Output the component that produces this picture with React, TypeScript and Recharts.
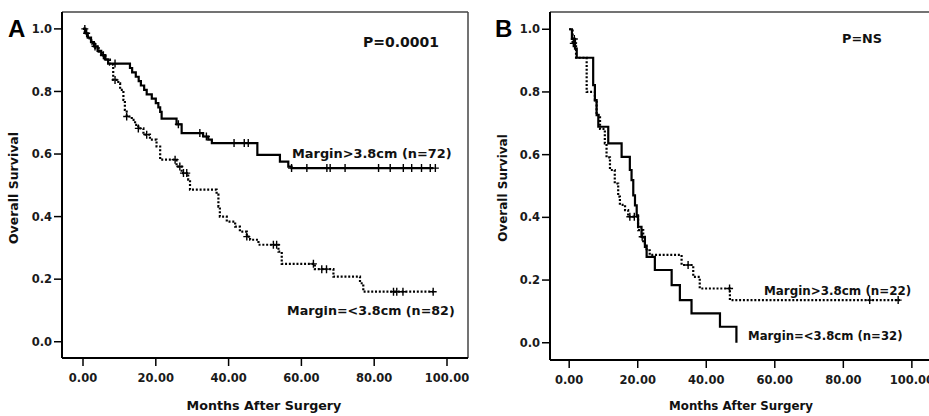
import React from 'react';
import { ComposedChart, Line, Scatter, XAxis, YAxis, ReferenceLine } from 'recharts';

// Panel A: margin > 3.8cm (solid) vs margin =< 3.8cm (dotted)
const aWideTimes = [0, 0.7, 1.3, 2.2, 3.0, 4.0, 5.0, 6.0, 6.9, 12.9, 13.5, 14.5, 15.3, 15.9, 16.8, 17.5, 18.9, 20.0, 20.7, 21.2, 21.6, 25.7, 27.1, 33.0, 34.4, 35.4, 47.9, 54.1, 56.4, 57.3, 96.2];
const aWideSurv = [1.0, 0.986, 0.972, 0.958, 0.944, 0.93, 0.916, 0.903, 0.889, 0.875, 0.861, 0.847, 0.833, 0.819, 0.805, 0.791, 0.777, 0.763, 0.749, 0.735, 0.713, 0.695, 0.667, 0.656, 0.646, 0.635, 0.597, 0.576, 0.56, 0.555, 0.555];
const aWideCensored = [0.5, 1.0, 3.3, 5.6, 8.8, 26.2, 32.1, 33.9, 41.5, 44.3, 45.4, 57.3, 61.5, 67.0, 67.9, 72.0, 81.2, 84.4, 88.0, 90.3, 93.0, 95.4, 96.8];

const aNarrowTimes = [0, 0.5, 1.0, 1.8, 2.6, 3.4, 4.3, 5.2, 6.2, 7.4, 8.3, 9.7, 10.2, 11.1, 11.5, 12.0, 13.4, 14.3, 15.2, 16.6, 18.4, 20.2, 21.2, 25.7, 27.1, 28.9, 29.4, 36.7, 37.2, 37.6, 39.5, 41.8, 43.1, 45.0, 45.9, 48.2, 53.7, 54.6, 63.7, 68.8, 76.1, 77.0, 96.2];
const aNarrowSurv = [1.0, 0.988, 0.976, 0.963, 0.951, 0.939, 0.927, 0.915, 0.902, 0.886, 0.837, 0.826, 0.805, 0.773, 0.741, 0.72, 0.709, 0.693, 0.682, 0.662, 0.646, 0.624, 0.582, 0.56, 0.539, 0.518, 0.486, 0.47, 0.432, 0.4, 0.384, 0.368, 0.352, 0.336, 0.326, 0.31, 0.288, 0.249, 0.232, 0.208, 0.187, 0.16, 0.16];
const aNarrowCensored = [8.8, 12.0, 15.2, 17.5, 25.3, 26.6, 27.6, 28.5, 45.0, 52.3, 53.2, 63.3, 65.6, 66.9, 85.3, 86.2, 87.9, 96.2];

// Panel B: margin > 3.8cm (dotted) vs margin =< 3.8cm (solid)
const bWideTimes = [0, 1.0, 2.0, 5.1, 7.5, 8.0, 9.0, 10.4, 10.9, 11.9, 13.3, 14.3, 14.8, 16.3, 17.2, 20.1, 21.6, 22.6, 23.5, 32.8, 36.2, 38.1, 46.9, 96.5];
const bWideSurv = [1.0, 0.955, 0.909, 0.8, 0.773, 0.727, 0.682, 0.636, 0.591, 0.551, 0.508, 0.466, 0.44, 0.423, 0.402, 0.359, 0.317, 0.295, 0.28, 0.248, 0.21, 0.173, 0.136, 0.136];
const bWideCensored = [1.2, 17.7, 19.0, 34.7, 46.8, 87.7, 96.0];

const bNarrowTimes = [0, 0.8, 1.7, 2.2, 7.0, 7.5, 8.0, 8.5, 11.4, 15.3, 17.7, 18.2, 18.7, 19.2, 19.7, 20.1, 21.1, 22.1, 22.6, 25.0, 29.9, 32.3, 35.7, 44.0, 48.8];
const bNarrowSurv = [1.0, 0.969, 0.938, 0.909, 0.822, 0.774, 0.726, 0.689, 0.636, 0.593, 0.551, 0.519, 0.47, 0.438, 0.406, 0.37, 0.338, 0.306, 0.274, 0.232, 0.184, 0.136, 0.094, 0.051, 0.0];
const bNarrowCensored = [1.5, 21.3];

const xTicks = [0, 20, 40, 60, 80, 100];
const yTicks = [0, 0.2, 0.4, 0.6, 0.8, 1.0];

const toSteps = (times: number[], surv: number[]) => times.map((t, i) => ({ t, s: surv[i] }));

// survival value at time t on a step curve
const stepAt = (times: number[], surv: number[], t: number) => {
  let v = surv[0];
  for (let i = 0; i < times.length; i++) {
    if (times[i] <= t) v = surv[i];
  }
  return v;
};

const toMarks = (censored: number[], times: number[], surv: number[]) =>
  censored.map((t) => ({ t, s: stepAt(times, surv, t) }));

const PlusMark = (props: any) => {
  const { cx, cy } = props;
  if (cx == null || cy == null) return null;
  return <path d={`M${cx - 3.5},${cy}h7M${cx},${cy - 4}v8`} stroke="#000" strokeWidth={1.4} fill="none" />;
};

const tickStyle = { fill: '#1a1a1a', fontSize: 11.5, fontWeight: 700, fontFamily: 'DejaVu Sans' };

interface PanelProps {
  width: number;
  margin: { top: number; right: number; bottom: number; left: number };
  xDomain: [number, number];
  yDomain: [number, number];
  solid: { t: number; s: number }[];
  dotted: { t: number; s: number }[];
  solidMarks: { t: number; s: number }[];
  dottedMarks: { t: number; s: number }[];
  rightBorder: boolean;
}

const Panel: React.FC<PanelProps> = ({ width, margin, xDomain, yDomain, solid, dotted, solidMarks, dottedMarks, rightBorder }) => (
  <ComposedChart width={width} height={416} margin={margin}>
    <XAxis
      type="number"
      dataKey="t"
      domain={xDomain}
      ticks={xTicks}
      allowDataOverflow
      tickFormatter={(v: number) => v.toFixed(2)}
      tick={tickStyle}
      tickSize={8}
      tickMargin={8}
      height={30}
      axisLine={{ stroke: '#000', strokeWidth: 2 }}
      tickLine={{ stroke: '#000', strokeWidth: 1.5 }}
    />
    <YAxis
      type="number"
      dataKey="s"
      domain={yDomain}
      ticks={yTicks}
      allowDataOverflow
      tickFormatter={(v: number) => v.toFixed(1)}
      tick={tickStyle}
      tickSize={8}
      tickMargin={2}
      width={40}
      axisLine={{ stroke: '#000', strokeWidth: 2 }}
      tickLine={{ stroke: '#000', strokeWidth: 1.5 }}
    />
    <ReferenceLine y={yDomain[1]} stroke="#444" strokeWidth={1.5} ifOverflow="visible" />
    {rightBorder && <ReferenceLine x={xDomain[1]} stroke="#444" strokeWidth={1.5} ifOverflow="visible" />}
    <Line data={dotted} dataKey="s" type="stepAfter" stroke="#000" strokeWidth={2.2} strokeDasharray="2 1.8" dot={false} isAnimationActive={false} />
    <Line data={solid} dataKey="s" type="stepAfter" stroke="#000" strokeWidth={2.2} dot={false} isAnimationActive={false} />
    <Scatter data={dottedMarks} dataKey="s" shape={<PlusMark />} isAnimationActive={false} />
    <Scatter data={solidMarks} dataKey="s" shape={<PlusMark />} isAnimationActive={false} />
  </ComposedChart>
);

const textBase = { fontFamily: 'DejaVu Sans', fontWeight: 700, fill: '#111' };

export default function App() {
  return (
    <div style={{ position: 'absolute', left: 0, top: 0, width: 929, height: 416, background: '#fff', overflow: 'hidden' }}>
      <div style={{ position: 'absolute', left: 0, top: 0 }}>
        <Panel
          width={480}
          margin={{ top: 12, right: 12, bottom: 28, left: 22 }}
          xDomain={[-5.77, 105.77]}
          yDomain={[-0.052, 1.054]}
          solid={toSteps(aWideTimes, aWideSurv)}
          dotted={toSteps(aNarrowTimes, aNarrowSurv)}
          solidMarks={toMarks(aWideCensored, aWideTimes, aWideSurv)}
          dottedMarks={toMarks(aNarrowCensored, aNarrowTimes, aNarrowSurv)}
          rightBorder
        />
      </div>
      <div style={{ position: 'absolute', left: 480, top: 0 }}>
        <Panel
          width={449}
          margin={{ top: 12, right: 0, bottom: 26, left: 30 }}
          xDomain={[-5.6, 105]}
          yDomain={[-0.055, 1.055]}
          solid={toSteps(bNarrowTimes, bNarrowSurv)}
          dotted={toSteps(bWideTimes, bWideSurv)}
          solidMarks={toMarks(bNarrowCensored, bNarrowTimes, bNarrowSurv)}
          dottedMarks={toMarks(bWideCensored, bWideTimes, bWideSurv)}
          rightBorder={false}
        />
      </div>
      <svg width={929} height={416} style={{ position: 'absolute', left: 0, top: 0, pointerEvents: 'none' }}>
        <text x={8} y={37} style={{ fontFamily: 'Liberation Sans', fontWeight: 700, fontSize: 24 }} fill="#000">A</text>
        <text x={495} y={37} style={{ fontFamily: 'Liberation Sans', fontWeight: 700, fontSize: 24 }} fill="#000">B</text>

        <text x={18} y={188} transform="rotate(-90 18 188)" textAnchor="middle" style={{ ...textBase, fontSize: 12.5 }}>Overall Survival</text>
        <text x={507} y={188} transform="rotate(-90 507 188)" textAnchor="middle" style={{ ...textBase, fontSize: 12 }}>Overall Survival</text>
        <text x={264} y={410} textAnchor="middle" style={{ ...textBase, fontSize: 12.7 }}>Months After Surgery</text>
        <text x={741} y={410} textAnchor="middle" style={{ ...textBase, fontSize: 11.8 }}>Months After Surgery</text>

        <text x={363} y={47} style={{ ...textBase, fontSize: 14 }}>P=0.0001</text>
        <text x={292} y={158} style={{ ...textBase, fontSize: 12.9 }}>Margin&gt;3.8cm (n=72)</text>
        <text x={287} y={315} style={{ ...textBase, fontSize: 12.7 }}>Margin=&lt;3.8cm (n=82)</text>

        <text x={842} y={43} style={{ ...textBase, fontSize: 12.8 }}>P=NS</text>
        <text x={764} y={295} style={{ ...textBase, fontSize: 11.9 }}>Margin&gt;3.8cm (n=22)</text>
        <text x={748} y={340} style={{ ...textBase, fontSize: 11.7 }}>Margin=&lt;3.8cm (n=32)</text>
      </svg>
    </div>
  );
}
